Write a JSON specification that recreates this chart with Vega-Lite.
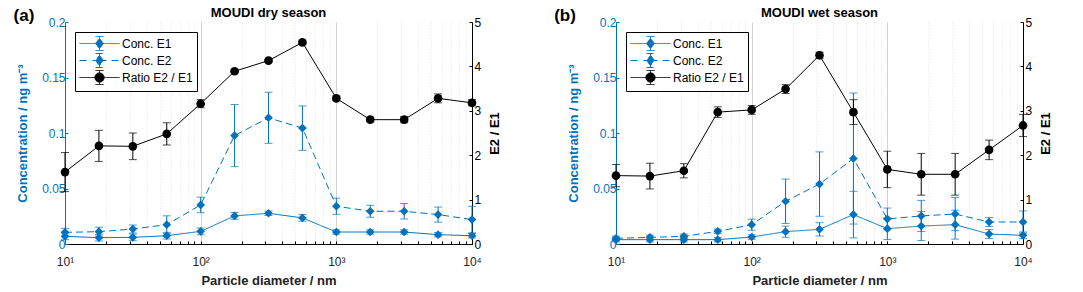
{
  "$schema": "https://vega.github.io/schema/vega-lite/v6.json",
  "padding": {"left": 13, "top": 7, "right": 5, "bottom": 5},
  "config": {
    "font": "Liberation Sans",
    "view": {"stroke": null},
    "axis": {"labelFont": "Liberation Sans", "titleFont": "Liberation Sans", "labelFontSize": 12, "titleFontSize": 13, "titleFontWeight": "bold"},
    "legend": {"title": null, "orient": "top-left", "offset": 10, "padding": 4, "strokeColor": "#000", "fillColor": "#fff",
      "symbolSize": 196, "symbolStrokeWidth": 1, "labelFontSize": 12, "labelColor": "#000", "labelOffset": 28, "rowPadding": -2.5}
  },
  "data": {"values": [
    {"p":"a","s":"Conc. E1","d":10,"v":0.0069,"e":0.003},
    {"p":"a","s":"Conc. E1","d":17.78,"v":0.0057,"e":0.003},
    {"p":"a","s":"Conc. E1","d":31.62,"v":0.006,"e":0.003},
    {"p":"a","s":"Conc. E1","d":56.23,"v":0.0075,"e":0.003},
    {"p":"a","s":"Conc. E1","d":100,"v":0.0114,"e":0.003},
    {"p":"a","s":"Conc. E1","d":177.8,"v":0.0253,"e":0.003},
    {"p":"a","s":"Conc. E1","d":316.2,"v":0.0277,"e":0.002},
    {"p":"a","s":"Conc. E1","d":562.3,"v":0.0235,"e":0.003},
    {"p":"a","s":"Conc. E1","d":1000,"v":0.0108,"e":0.002},
    {"p":"a","s":"Conc. E1","d":1778,"v":0.0108,"e":0.002},
    {"p":"a","s":"Conc. E1","d":3162,"v":0.0108,"e":0.002},
    {"p":"a","s":"Conc. E1","d":5623,"v":0.0084,"e":0.002},
    {"p":"a","s":"Conc. E1","d":10000,"v":0.0075,"e":0.002},
    {"p":"a","s":"Conc. E2","d":10,"v":0.0105,"e":0.0036},
    {"p":"a","s":"Conc. E2","d":17.78,"v":0.0111,"e":0.004},
    {"p":"a","s":"Conc. E2","d":31.62,"v":0.0135,"e":0.0036},
    {"p":"a","s":"Conc. E2","d":56.23,"v":0.0174,"e":0.008},
    {"p":"a","s":"Conc. E2","d":100,"v":0.0352,"e":0.007},
    {"p":"a","s":"Conc. E2","d":177.8,"v":0.0977,"e":0.028},
    {"p":"a","s":"Conc. E2","d":316.2,"v":0.1137,"e":0.023},
    {"p":"a","s":"Conc. E2","d":562.3,"v":0.1044,"e":0.02},
    {"p":"a","s":"Conc. E2","d":1000,"v":0.034,"e":0.0073},
    {"p":"a","s":"Conc. E2","d":1778,"v":0.0295,"e":0.0054},
    {"p":"a","s":"Conc. E2","d":3162,"v":0.0295,"e":0.007},
    {"p":"a","s":"Conc. E2","d":5623,"v":0.0265,"e":0.0068},
    {"p":"a","s":"Conc. E2","d":10000,"v":0.022,"e":0.012},
    {"p":"a","s":"Ratio E2 / E1","d":10,"v":1.62,"e":0.44},
    {"p":"a","s":"Ratio E2 / E1","d":17.78,"v":2.21,"e":0.35},
    {"p":"a","s":"Ratio E2 / E1","d":31.62,"v":2.2,"e":0.3},
    {"p":"a","s":"Ratio E2 / E1","d":56.23,"v":2.48,"e":0.25},
    {"p":"a","s":"Ratio E2 / E1","d":100,"v":3.16,"e":0.09},
    {"p":"a","s":"Ratio E2 / E1","d":177.8,"v":3.89,"e":0.03},
    {"p":"a","s":"Ratio E2 / E1","d":316.2,"v":4.13,"e":0.03},
    {"p":"a","s":"Ratio E2 / E1","d":562.3,"v":4.54,"e":0.03},
    {"p":"a","s":"Ratio E2 / E1","d":1000,"v":3.28,"e":0.05},
    {"p":"a","s":"Ratio E2 / E1","d":1778,"v":2.8,"e":0.05},
    {"p":"a","s":"Ratio E2 / E1","d":3162,"v":2.8,"e":0.07},
    {"p":"a","s":"Ratio E2 / E1","d":5623,"v":3.28,"e":0.1},
    {"p":"a","s":"Ratio E2 / E1","d":10000,"v":3.18,"e":0.07},
    {"p":"b","s":"Conc. E1","d":10,"v":0.0039,"e":0.002},
    {"p":"b","s":"Conc. E1","d":17.78,"v":0.0039,"e":0.002},
    {"p":"b","s":"Conc. E1","d":31.62,"v":0.0039,"e":0.002},
    {"p":"b","s":"Conc. E1","d":56.23,"v":0.0039,"e":0.002},
    {"p":"b","s":"Conc. E1","d":100,"v":0.0063,"e":0.002},
    {"p":"b","s":"Conc. E1","d":177.8,"v":0.0111,"e":0.005},
    {"p":"b","s":"Conc. E1","d":316.2,"v":0.0132,"e":0.006},
    {"p":"b","s":"Conc. E1","d":562.3,"v":0.0265,"e":0.021},
    {"p":"b","s":"Conc. E1","d":1000,"v":0.0138,"e":0.0098},
    {"p":"b","s":"Conc. E1","d":1778,"v":0.0162,"e":0.013},
    {"p":"b","s":"Conc. E1","d":3162,"v":0.0174,"e":0.013},
    {"p":"b","s":"Conc. E1","d":5623,"v":0.009,"e":0.004},
    {"p":"b","s":"Conc. E1","d":10000,"v":0.0078,"e":0.003},
    {"p":"b","s":"Conc. E2","d":10,"v":0.0051,"e":0.002},
    {"p":"b","s":"Conc. E2","d":17.78,"v":0.006,"e":0.002},
    {"p":"b","s":"Conc. E2","d":31.62,"v":0.0069,"e":0.002},
    {"p":"b","s":"Conc. E2","d":56.23,"v":0.0114,"e":0.002},
    {"p":"b","s":"Conc. E2","d":100,"v":0.0174,"e":0.005},
    {"p":"b","s":"Conc. E2","d":177.8,"v":0.0385,"e":0.02},
    {"p":"b","s":"Conc. E2","d":316.2,"v":0.054,"e":0.029},
    {"p":"b","s":"Conc. E2","d":562.3,"v":0.077,"e":0.059},
    {"p":"b","s":"Conc. E2","d":1000,"v":0.0226,"e":0.0098},
    {"p":"b","s":"Conc. E2","d":1778,"v":0.0253,"e":0.014},
    {"p":"b","s":"Conc. E2","d":3162,"v":0.027,"e":0.015},
    {"p":"b","s":"Conc. E2","d":5623,"v":0.0198,"e":0.004},
    {"p":"b","s":"Conc. E2","d":10000,"v":0.0198,"e":0.01},
    {"p":"b","s":"Ratio E2 / E1","d":10,"v":1.54,"e":0.25},
    {"p":"b","s":"Ratio E2 / E1","d":17.78,"v":1.53,"e":0.29},
    {"p":"b","s":"Ratio E2 / E1","d":31.62,"v":1.65,"e":0.16},
    {"p":"b","s":"Ratio E2 / E1","d":56.23,"v":2.97,"e":0.12},
    {"p":"b","s":"Ratio E2 / E1","d":100,"v":3.02,"e":0.1},
    {"p":"b","s":"Ratio E2 / E1","d":177.8,"v":3.49,"e":0.1},
    {"p":"b","s":"Ratio E2 / E1","d":316.2,"v":4.25,"e":0.07},
    {"p":"b","s":"Ratio E2 / E1","d":562.3,"v":2.97,"e":0.28},
    {"p":"b","s":"Ratio E2 / E1","d":1000,"v":1.68,"e":0.41},
    {"p":"b","s":"Ratio E2 / E1","d":1778,"v":1.57,"e":0.47},
    {"p":"b","s":"Ratio E2 / E1","d":3162,"v":1.57,"e":0.47},
    {"p":"b","s":"Ratio E2 / E1","d":5623,"v":2.12,"e":0.22},
    {"p":"b","s":"Ratio E2 / E1","d":10000,"v":2.67,"e":0.25}
  ]},
  "spacing": 52,
  "resolve": {"scale": {"color": "independent", "strokeDash": "independent"}, "legend": {"color": "independent", "strokeDash": "independent"}},
  "hconcat": [
    {
      "width": 407, "height": 222,
      "title": {"text": "MOUDI dry season", "fontSize": 13, "fontWeight": "bold", "offset": -13, "frame": "group", "color": "#000"},
      "encoding": {
        "x": {"field": "d", "type": "quantitative", "title": "Particle diameter / nm",
          "scale": {"type": "log", "domain": [10, 10000], "nice": false},
          "axis": {
            "values": [10,20,30,40,50,60,70,80,90,100,200,300,400,500,600,700,800,900,1000,2000,3000,4000,5000,6000,7000,8000,9000,10000],
            "labelExpr": "abs(log(datum.value)/LN10 - round(log(datum.value)/LN10)) < 0.001 ? '10' + ['⁰','¹','²','³','⁴'][round(log(datum.value)/LN10)] : ''",
            "grid": true,
            "gridColor": {"condition": {"test": "abs(log(datum.value)/LN10 - round(log(datum.value)/LN10)) < 0.001", "value": "#d2d2d2"}, "value": "#e2e2e2"},
            "gridDash": {"condition": {"test": "abs(log(datum.value)/LN10 - round(log(datum.value)/LN10)) < 0.001", "value": []}, "value": [1, 2]},
            "gridWidth": 1,
            "tickSize": -3, "labelPadding": 15, "tickColor": "#000", "domainColor": "#000",
            "labelColor": "#222", "labelFlush": false, "labelOverlap": false, "titleColor": "#222", "titlePadding": 7
          }
        }
      },
      "layer": [
        {
          "transform": [{"filter": "datum.p == 'a' && datum.s != 'Ratio E2 / E1'"}],
          "encoding": {
            "y": {"field": "v", "type": "quantitative", "title": "Concentration / ng m⁻³",
              "scale": {"domain": [0, 0.2], "nice": false},
              "axis": {"values": [0, 0.05, 0.1, 0.15, 0.2], "format": "~g", "grid": false, "tickSize": -3, "labelPadding": 3,
                "domainColor": "#0072BD", "tickColor": "#0072BD", "labelColor": "#0072BD", "titleColor": "#0072BD", "titlePadding": 12}},
            "color": {"field": "s", "type": "nominal",
              "scale": {"domain": ["Conc. E1", "Conc. E2", "Ratio E2 / E1"], "range": ["#0072BD", "#0072BD", "#000000"]},
              "legend": {
                "encode": {"symbols": {"update": {
                  "shape": {"signal": "datum.value == 'Conc. E1' ? 'M-1,0H4.714M1.857,-1V1M1.286,-1H2.429M1.286,1H2.429M1.857,-0.714L2.429,0L1.857,0.714L1.286,0Z' : datum.value == 'Conc. E2' ? 'M-1,0H0.143M0.857,0H1.429M2.286,0H2.857M3.571,0H4.714M1.857,-1V1M1.286,-1H2.429M1.286,1H2.429M1.857,-0.714L2.429,0L1.857,0.714L1.286,0Z' : 'M-1,0H4.714M1.857,-1V1M1.286,-1H2.429M1.286,1H2.429M1.2,0A0.657,0.657,0,1,1,2.514,0A0.657,0.657,0,1,1,1.2,0Z'"},
                  "fill": {"signal": "datum.value == 'Ratio E2 / E1' ? '#000' : '#0072BD'"},
                  "stroke": {"signal": "datum.value == 'Ratio E2 / E1' ? '#000' : '#0072BD'"},
                  "strokeDash": {"value": [1, 0]},
                  "opacity": {"value": 1}, "fillOpacity": {"value": 1}, "strokeOpacity": {"value": 1},
                  "size": {"value": 196}, "strokeWidth": {"value": 1}
                }}}}}
          },
          "layer": [
            {"mark": {"type": "line", "strokeWidth": 1},
             "encoding": {"strokeDash": {"field": "s", "type": "nominal", "legend": null,
               "scale": {"domain": ["Conc. E1", "Conc. E2", "Ratio E2 / E1"], "range": [[1, 0], [7, 4], [1, 0]]}}}},
            {"mark": {"type": "errorbar", "thickness": 1, "ticks": {"size": 8}},
             "encoding": {"yError": {"field": "e"}}},
            {"mark": {"type": "point", "shape": "diamond", "filled": true, "size": 75, "opacity": 1}},
            {"transform": [{"filter": "datum.d == 10 && datum.s == 'Conc. E1'"}],
             "mark": {"type": "text", "text": "(a)", "fontSize": 17, "fontWeight": "bold", "dx": -41, "dy": -6, "align": "center", "baseline": "middle", "clip": false},
             "encoding": {"x": {"datum": 10}, "y": {"datum": 0.2}, "color": {"value": "#000"}}}
          ]
        },
        {
          "transform": [{"filter": "datum.p == 'a' && datum.s == 'Ratio E2 / E1'"}],
          "encoding": {
            "y": {"field": "v", "type": "quantitative", "title": "E2 / E1",
              "scale": {"domain": [0, 5], "nice": false},
              "axis": {"orient": "right", "values": [0, 1, 2, 3, 4, 5], "format": "d", "grid": false, "tickSize": -3, "labelPadding": 5,
                "domainColor": "#000", "tickColor": "#000", "labelColor": "#000", "titleColor": "#000", "titleAngle": 270, "titleBaseline": "top", "titlePadding": 8}},
            "color": {"field": "s", "type": "nominal", "legend": null}
          },
          "layer": [
            {"mark": {"type": "line", "strokeWidth": 1}},
            {"mark": {"type": "errorbar", "thickness": 1, "ticks": {"size": 8}},
             "encoding": {"yError": {"field": "e"}}},
            {"mark": {"type": "point", "shape": "circle", "filled": true, "size": 75, "opacity": 1}}
          ]
        }
      ],
      "resolve": {"scale": {"y": "independent"}}
    },
    {
      "width": 407, "height": 222,
      "title": {"text": "MOUDI wet season", "fontSize": 13, "fontWeight": "bold", "offset": -13, "frame": "group", "color": "#000"},
      "encoding": {
        "x": {"field": "d", "type": "quantitative", "title": "Particle diameter / nm",
          "scale": {"type": "log", "domain": [10, 10000], "nice": false},
          "axis": {
            "values": [10,20,30,40,50,60,70,80,90,100,200,300,400,500,600,700,800,900,1000,2000,3000,4000,5000,6000,7000,8000,9000,10000],
            "labelExpr": "abs(log(datum.value)/LN10 - round(log(datum.value)/LN10)) < 0.001 ? '10' + ['⁰','¹','²','³','⁴'][round(log(datum.value)/LN10)] : ''",
            "grid": true,
            "gridColor": {"condition": {"test": "abs(log(datum.value)/LN10 - round(log(datum.value)/LN10)) < 0.001", "value": "#d2d2d2"}, "value": "#e2e2e2"},
            "gridDash": {"condition": {"test": "abs(log(datum.value)/LN10 - round(log(datum.value)/LN10)) < 0.001", "value": []}, "value": [1, 2]},
            "gridWidth": 1,
            "tickSize": -3, "labelPadding": 15, "tickColor": "#000", "domainColor": "#000",
            "labelColor": "#222", "labelFlush": false, "labelOverlap": false, "titleColor": "#222", "titlePadding": 7
          }
        }
      },
      "layer": [
        {
          "transform": [{"filter": "datum.p == 'b' && datum.s != 'Ratio E2 / E1'"}],
          "encoding": {
            "y": {"field": "v", "type": "quantitative", "title": "Concentration / ng m⁻³",
              "scale": {"domain": [0, 0.2], "nice": false},
              "axis": {"values": [0, 0.05, 0.1, 0.15, 0.2], "format": "~g", "grid": false, "tickSize": -3, "labelPadding": 3,
                "domainColor": "#0072BD", "tickColor": "#0072BD", "labelColor": "#0072BD", "titleColor": "#0072BD", "titlePadding": 12}},
            "color": {"field": "s", "type": "nominal",
              "scale": {"domain": ["Conc. E1", "Conc. E2", "Ratio E2 / E1"], "range": ["#0072BD", "#0072BD", "#000000"]},
              "legend": {
                "encode": {"symbols": {"update": {
                  "shape": {"signal": "datum.value == 'Conc. E1' ? 'M-1,0H4.714M1.857,-1V1M1.286,-1H2.429M1.286,1H2.429M1.857,-0.714L2.429,0L1.857,0.714L1.286,0Z' : datum.value == 'Conc. E2' ? 'M-1,0H0.143M0.857,0H1.429M2.286,0H2.857M3.571,0H4.714M1.857,-1V1M1.286,-1H2.429M1.286,1H2.429M1.857,-0.714L2.429,0L1.857,0.714L1.286,0Z' : 'M-1,0H4.714M1.857,-1V1M1.286,-1H2.429M1.286,1H2.429M1.2,0A0.657,0.657,0,1,1,2.514,0A0.657,0.657,0,1,1,1.2,0Z'"},
                  "fill": {"signal": "datum.value == 'Ratio E2 / E1' ? '#000' : '#0072BD'"},
                  "stroke": {"signal": "datum.value == 'Ratio E2 / E1' ? '#000' : '#0072BD'"},
                  "strokeDash": {"value": [1, 0]},
                  "opacity": {"value": 1}, "fillOpacity": {"value": 1}, "strokeOpacity": {"value": 1},
                  "size": {"value": 196}, "strokeWidth": {"value": 1}
                }}}}}
          },
          "layer": [
            {"mark": {"type": "line", "strokeWidth": 1},
             "encoding": {"strokeDash": {"field": "s", "type": "nominal", "legend": null,
               "scale": {"domain": ["Conc. E1", "Conc. E2", "Ratio E2 / E1"], "range": [[1, 0], [7, 4], [1, 0]]}}}},
            {"mark": {"type": "errorbar", "thickness": 1, "ticks": {"size": 8}},
             "encoding": {"yError": {"field": "e"}}},
            {"mark": {"type": "point", "shape": "diamond", "filled": true, "size": 75, "opacity": 1}},
            {"transform": [{"filter": "datum.d == 10 && datum.s == 'Conc. E1'"}],
             "mark": {"type": "text", "text": "(b)", "fontSize": 17, "fontWeight": "bold", "dx": -51, "dy": -6, "align": "center", "baseline": "middle", "clip": false},
             "encoding": {"x": {"datum": 10}, "y": {"datum": 0.2}, "color": {"value": "#000"}}}
          ]
        },
        {
          "transform": [{"filter": "datum.p == 'b' && datum.s == 'Ratio E2 / E1'"}],
          "encoding": {
            "y": {"field": "v", "type": "quantitative", "title": "E2 / E1",
              "scale": {"domain": [0, 5], "nice": false},
              "axis": {"orient": "right", "values": [0, 1, 2, 3, 4, 5], "format": "d", "grid": false, "tickSize": -3, "labelPadding": 5,
                "domainColor": "#000", "tickColor": "#000", "labelColor": "#000", "titleColor": "#000", "titleAngle": 270, "titleBaseline": "top", "titlePadding": 8}},
            "color": {"field": "s", "type": "nominal", "legend": null}
          },
          "layer": [
            {"mark": {"type": "line", "strokeWidth": 1}},
            {"mark": {"type": "errorbar", "thickness": 1, "ticks": {"size": 8}},
             "encoding": {"yError": {"field": "e"}}},
            {"mark": {"type": "point", "shape": "circle", "filled": true, "size": 75, "opacity": 1}}
          ]
        }
      ],
      "resolve": {"scale": {"y": "independent"}}
    }
  ]
}
